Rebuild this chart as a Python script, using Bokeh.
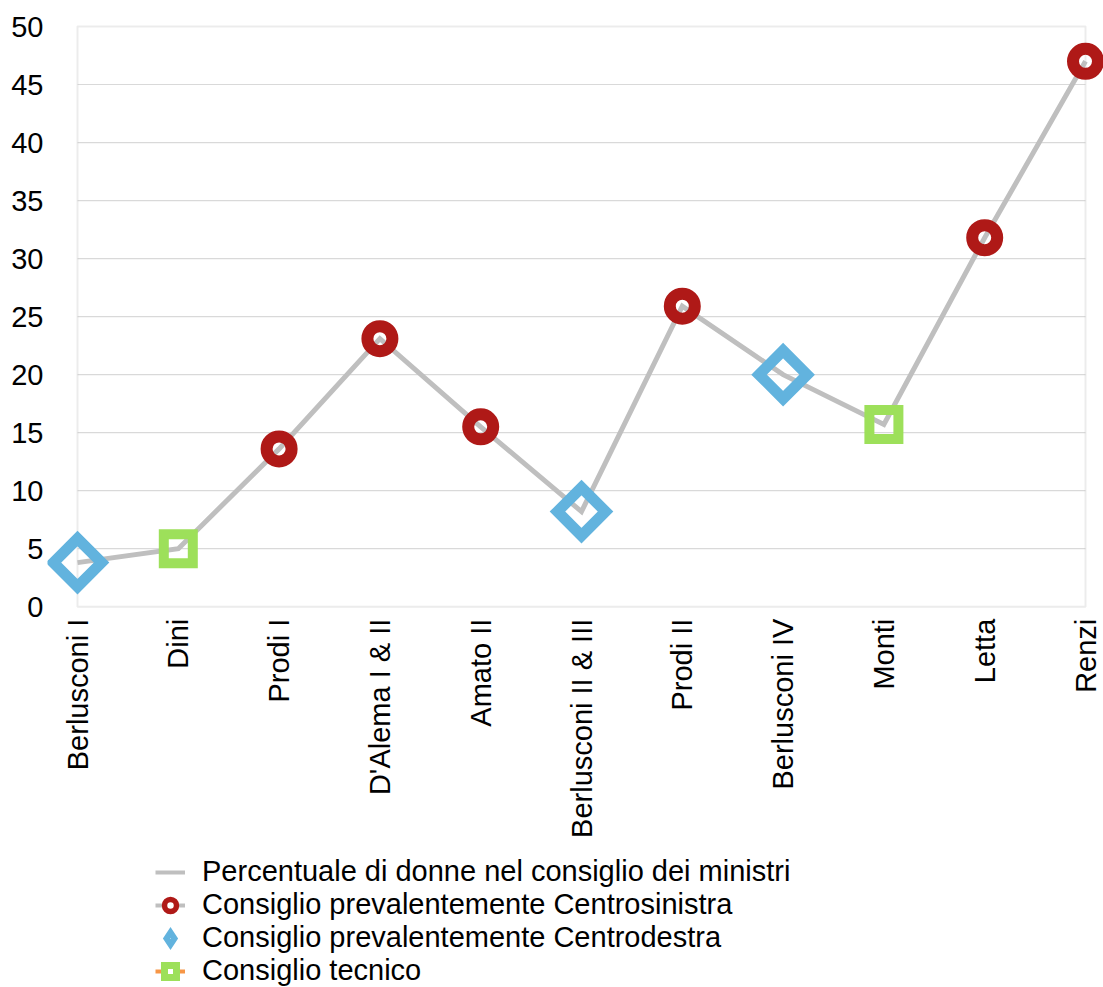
import numpy as np
from bokeh.plotting import figure
from bokeh.models import (Range1d, FixedTicker, Legend, LegendItem, BoxAnnotation,
                          ColumnDataSource)
from bokeh.core.properties import value
from bokeh.embed import file_html
from bokeh.resources import INLINE

# ---------------- data ----------------
categories = ["Berlusconi I", "Dini", "Prodi I", "D'Alema I & II", "Amato II",
              "Berlusconi II & III", "Prodi II", "Berlusconi IV", "Monti", "Letta", "Renzi"]
percent_women = [3.8, 5.0, 13.6, 23.1, 15.5, 8.2, 25.9, 20.0, 15.7, 31.8, 47.0]
council_type = ["destra", "tecnico", "sinistra", "sinistra", "sinistra", "destra",
                "sinistra", "destra", "tecnico", "sinistra", "sinistra"]
y_ticks = [0, 5, 10, 15, 20, 25, 30, 35, 40, 45, 50]

legend_labels = ["Percentuale di donne nel consiglio dei ministri",
                 "Consiglio prevalentemente Centrosinistra",
                 "Consiglio prevalentemente Centrodestra",
                 "Consiglio tecnico"]

# ---------------- styling ----------------
FONT = "Liberation Sans"
GRAY = "#BFBFBF"
RED = "#AF1917"
BLUE = "#62B3DE"
GREEN = "#9DE05A"
ORANGE = "#F79646"

xs = list(range(len(categories)))
src = ColumnDataSource(dict(x=xs, y=percent_women, t=council_type))

def subset(kind):
    idx = [i for i, k in enumerate(council_type) if k == kind]
    return ColumnDataSource(dict(x=[xs[i] for i in idx], y=[percent_women[i] for i in idx]))

PX_X = 100.8
PX_Y = 11.58
W, H = 1103, 987
TOP = 24
Y0_PIX = 607
p = figure(width=W, height=H, output_backend="svg", toolbar_location=None,
           x_axis_location=None,
           x_range=Range1d(xs[0] - 30 / PX_X, xs[-1] + 18 / PX_X),
           y_range=Range1d(y_ticks[0] - (H - Y0_PIX) / PX_Y, y_ticks[-1] + 2 / PX_Y),
           min_border_left=47, min_border_right=0, min_border_top=TOP, min_border_bottom=0)
p.outline_line_color = None
p.xgrid.visible = False
p.ygrid.visible = False
p.background_fill_color = "white"
p.border_fill_color = "white"

# frame box and gridlines
box = BoxAnnotation(left=xs[0], right=xs[-1], bottom=y_ticks[0], top=y_ticks[-1],
                    fill_alpha=0, line_color=GRAY, line_width=2, level="underlay")
p.add_layout(box)
gt = y_ticks[1:-1]
p.segment(x0=[xs[0]] * len(gt), x1=[xs[-1]] * len(gt), y0=gt, y1=gt,
          line_color="#D9D9D9", line_width=1.2, level="underlay")

# y axis
p.yaxis.ticker = FixedTicker(ticks=y_ticks)
ax = p.yaxis[0]
ax.axis_line_color = None
ax.major_tick_line_color = None
ax.minor_tick_line_color = None
ax.major_tick_out = 0
ax.major_tick_in = 0
ax.minor_tick_out = 0
ax.major_label_text_font = FONT
ax.major_label_text_font_size = "29px"
ax.major_label_text_color = "#000000"
ax.major_label_standoff = 4

# category labels (vertical, below the zero line)
lab_src = ColumnDataSource(dict(x=xs, y=[y_ticks[0]] * len(xs), text=categories))
p.text("x", "y", text="text", source=lab_src, angle=np.pi / 2, y_offset=12,
       text_align="right", text_baseline="middle", text_font=value(FONT),
       text_font_size="29px", text_color="#000000")

# data
p.line("x", "y", source=src, line_color=GRAY, line_width=5, line_join="miter")
p.scatter("x", "y", source=subset("sinistra"), marker="circle", size=25,
          fill_alpha=0, line_color=RED, line_width=12)
p.scatter("x", "y", source=subset("destra"), marker="square", angle=np.pi / 4, size=34,
          fill_alpha=0, line_color=BLUE, line_width=11, line_join="miter")
p.scatter("x", "y", source=subset("tecnico"), marker="square", size=29,
          fill_alpha=0, line_color=GREEN, line_width=10, line_join="miter")

# legend proxies (nan data: nothing drawn in the plot)
nan = float("nan")
proxy = lambda: ColumnDataSource(dict(x=[nan], y=[nan]))
lg_line = p.line("x", "y", source=proxy(), line_color=GRAY, line_width=4)
lg_orange = p.line("x", "y", source=proxy(), line_color=ORANGE, line_width=4)
lg_circ = p.scatter("x", "y", source=proxy(), marker="circle", fill_color="white",
                    line_color=RED, line_width=5.5)
lg_diam = p.scatter("x", "y", source=proxy(), marker="diamond", fill_alpha=0,
                    line_color=BLUE, line_width=6, line_join="miter")
lg_sq = p.scatter("x", "y", source=proxy(), marker="square", fill_color="white",
                  line_color=GREEN, line_width=7, line_join="miter")

legend = Legend(items=[
    LegendItem(label=legend_labels[0], renderers=[lg_line]),
    LegendItem(label=legend_labels[1], renderers=[lg_line, lg_circ]),
    LegendItem(label=legend_labels[2], renderers=[lg_diam]),
    LegendItem(label=legend_labels[3], renderers=[lg_orange, lg_sq]),
], location=(108, 0), orientation="vertical")
legend.label_text_font = FONT
legend.label_text_font_size = "29px"
legend.label_text_line_height = 1.0
legend.label_text_color = "#000000"
legend.label_height = 30
legend.glyph_height = 30
legend.glyph_width = 30
legend.spacing = 0
legend.padding = 0
legend.margin = 0
legend.label_standoff = 17
legend.border_line_color = None
legend.background_fill_alpha = 0
p.add_layout(legend, "center")

open("out.html", "w").write(file_html(p, INLINE))
